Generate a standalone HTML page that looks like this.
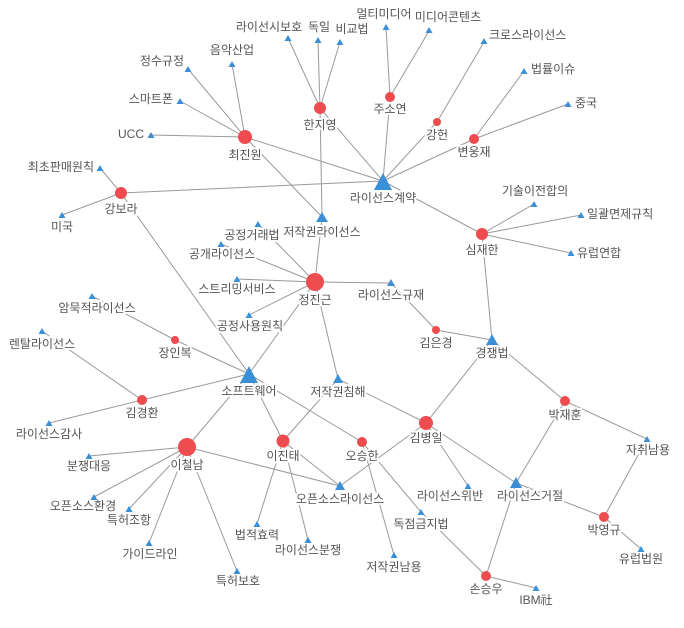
<!DOCTYPE html>
<html><head><meta charset="utf-8"><style>
html,body{margin:0;padding:0;background:#fff;}
svg text{font-family:"Liberation Sans","Noto Sans CJK KR",sans-serif;font-size:12px;fill:#555;dominant-baseline:middle;paint-order:stroke;stroke:#fff;stroke-width:4px;stroke-linejoin:round;}
</style></head><body>
<svg width="684" height="623" xmlns="http://www.w3.org/2000/svg">
<g stroke="#9a9a9a" stroke-width="1">
<line x1="245" y1="137" x2="188" y2="69"/><line x1="245" y1="137" x2="232" y2="64"/><line x1="245" y1="137" x2="180" y2="101"/><line x1="245" y1="137" x2="151" y2="135"/><line x1="245" y1="137" x2="383" y2="181"/><line x1="245" y1="137" x2="322" y2="217"/>
<line x1="320" y1="108" x2="288" y2="38"/><line x1="320" y1="108" x2="318" y2="40"/><line x1="320" y1="108" x2="340" y2="42"/><line x1="320" y1="108" x2="322" y2="217"/><line x1="320" y1="108" x2="383" y2="181"/>
<line x1="390" y1="97" x2="386" y2="27"/><line x1="390" y1="97" x2="429" y2="31"/><line x1="390" y1="97" x2="383" y2="181"/>
<line x1="437" y1="122" x2="484" y2="42"/><line x1="437" y1="122" x2="383" y2="181"/>
<line x1="474" y1="139" x2="524" y2="71"/><line x1="474" y1="139" x2="568" y2="104"/><line x1="474" y1="139" x2="383" y2="181"/>
<line x1="121" y1="193" x2="100" y2="168"/><line x1="121" y1="193" x2="62" y2="215"/><line x1="121" y1="193" x2="383" y2="181"/><line x1="121" y1="193" x2="249" y2="374"/>
<line x1="482" y1="234" x2="383" y2="181"/><line x1="482" y1="234" x2="534" y2="204"/><line x1="482" y1="234" x2="581" y2="215"/><line x1="482" y1="234" x2="571" y2="253"/><line x1="482" y1="234" x2="492" y2="340"/>
<line x1="315" y1="282" x2="258" y2="224"/><line x1="315" y1="282" x2="221" y2="244"/><line x1="315" y1="282" x2="237" y2="279"/><line x1="315" y1="282" x2="322" y2="217"/><line x1="315" y1="282" x2="391" y2="283"/><line x1="315" y1="282" x2="249" y2="374"/><line x1="315" y1="282" x2="338" y2="379"/><line x1="315" y1="282" x2="249" y2="315"/>
<line x1="175" y1="340" x2="92" y2="296"/><line x1="175" y1="340" x2="249" y2="374"/>
<line x1="436" y1="330" x2="391" y2="283"/><line x1="436" y1="330" x2="492" y2="340"/>
<line x1="142" y1="400" x2="42" y2="331"/><line x1="142" y1="400" x2="49" y2="423"/><line x1="142" y1="400" x2="249" y2="374"/>
<line x1="187" y1="447" x2="249" y2="374"/><line x1="187" y1="447" x2="89" y2="456"/><line x1="187" y1="447" x2="94" y2="497"/><line x1="187" y1="447" x2="129" y2="509"/><line x1="187" y1="447" x2="149" y2="543"/><line x1="187" y1="447" x2="237" y2="571"/><line x1="187" y1="447" x2="340" y2="486"/>
<line x1="283" y1="441" x2="249" y2="374"/><line x1="283" y1="441" x2="338" y2="379"/><line x1="283" y1="441" x2="340" y2="486"/><line x1="283" y1="441" x2="257" y2="524"/><line x1="283" y1="441" x2="308" y2="540"/>
<line x1="362" y1="442" x2="249" y2="374"/><line x1="362" y1="442" x2="394" y2="555"/><line x1="362" y1="442" x2="421" y2="512"/>
<line x1="426" y1="423" x2="338" y2="379"/><line x1="426" y1="423" x2="492" y2="340"/><line x1="426" y1="423" x2="340" y2="486"/><line x1="426" y1="423" x2="468" y2="486"/><line x1="426" y1="423" x2="516" y2="483"/>
<line x1="565" y1="401" x2="492" y2="340"/><line x1="565" y1="401" x2="516" y2="483"/><line x1="565" y1="401" x2="647" y2="439"/>
<line x1="604" y1="517" x2="516" y2="483"/><line x1="604" y1="517" x2="647" y2="439"/><line x1="604" y1="517" x2="641" y2="549"/>
<line x1="486" y1="576" x2="421" y2="512"/><line x1="486" y1="576" x2="516" y2="483"/><line x1="486" y1="576" x2="536" y2="588"/>
</g>
<g>
<text x="245" y="156" text-anchor="middle">최진원</text>
<text x="320" y="126" text-anchor="middle">한지영</text>
<text x="390" y="110" text-anchor="middle">주소연</text>
<text x="437" y="136" text-anchor="middle">강헌</text>
<text x="474" y="153" text-anchor="middle">변웅재</text>
<text x="121" y="210" text-anchor="middle">강보라</text>
<text x="482" y="251" text-anchor="middle">심재한</text>
<text x="315" y="301" text-anchor="middle">정진근</text>
<text x="175" y="354" text-anchor="middle">장인복</text>
<text x="436" y="344" text-anchor="middle">김은경</text>
<text x="142" y="414" text-anchor="middle">김경환</text>
<text x="187" y="466" text-anchor="middle">이철남</text>
<text x="283" y="457" text-anchor="middle">이진태</text>
<text x="362" y="457" text-anchor="middle">오승한</text>
<text x="426" y="439" text-anchor="middle">김병일</text>
<text x="565" y="416" text-anchor="middle">박재훈</text>
<text x="604" y="531" text-anchor="middle">박영규</text>
<text x="486" y="590" text-anchor="middle">손승우</text>
<text x="383" y="199" text-anchor="middle">라이선스계약</text>
<text x="322" y="233" text-anchor="middle">저작권라이선스</text>
<text x="249" y="392" text-anchor="middle">소프트웨어</text>
<text x="492" y="354" text-anchor="middle">경쟁법</text>
<text x="530" y="497" text-anchor="middle">라이선스거절</text>
<text x="340" y="500" text-anchor="middle">오픈소스라이선스</text>
<text x="338" y="393" text-anchor="middle">저작권침해</text>
<text x="269" y="28" text-anchor="middle">라이선시보호</text>
<text x="319" y="28" text-anchor="middle">독일</text>
<text x="352" y="30" text-anchor="middle">비교법</text>
<text x="384" y="15" text-anchor="middle">멀티미디어</text>
<text x="448" y="18" text-anchor="middle">미디어콘텐츠</text>
<text x="489" y="36">크로스라이선스</text>
<text x="531" y="70">법률이슈</text>
<text x="575" y="104">중국</text>
<text x="535" y="192" text-anchor="middle">기술이전합의</text>
<text x="587" y="215">일괄면제규칙</text>
<text x="577" y="254">유럽연합</text>
<text x="391" y="296" text-anchor="middle">라이선스규재</text>
<text x="232" y="51" text-anchor="middle">음악산업</text>
<text x="184" y="62" text-anchor="end">정수규정</text>
<text x="173" y="100" text-anchor="end">스마트폰</text>
<text x="144" y="135" text-anchor="end">UCC</text>
<text x="94" y="168" text-anchor="end">최초판매원칙</text>
<text x="62" y="228" text-anchor="middle">미국</text>
<text x="252" y="236" text-anchor="middle">공정거래법</text>
<text x="222" y="255" text-anchor="middle">공개라이선스</text>
<text x="237" y="290" text-anchor="middle">스트리밍서비스</text>
<text x="250" y="327" text-anchor="middle">공정사용원칙</text>
<text x="97" y="309" text-anchor="middle">암묵적라이선스</text>
<text x="42" y="345" text-anchor="middle">렌탈라이선스</text>
<text x="49" y="435" text-anchor="middle">라이선스감사</text>
<text x="89" y="467" text-anchor="middle">분쟁대응</text>
<text x="83" y="507" text-anchor="middle">오픈소스환경</text>
<text x="129" y="521" text-anchor="middle">특허조항</text>
<text x="150" y="555" text-anchor="middle">가이드라인</text>
<text x="238" y="582" text-anchor="middle">특허보호</text>
<text x="257" y="536" text-anchor="middle">법적효력</text>
<text x="308" y="551" text-anchor="middle">라이선스분쟁</text>
<text x="450" y="497" text-anchor="middle">라이선스위반</text>
<text x="421" y="525" text-anchor="middle">독점금지법</text>
<text x="394" y="568" text-anchor="middle">저작권남용</text>
<text x="536" y="601" text-anchor="middle">IBM社</text>
<text x="641" y="560" text-anchor="middle">유럽법원</text>
<text x="648" y="451" text-anchor="middle">자취남용</text>
</g>
<g fill="#ee4c4f">
<circle cx="245" cy="137" r="7"/><circle cx="320" cy="108" r="6"/><circle cx="390" cy="97" r="5"/><circle cx="437" cy="122" r="4"/><circle cx="474" cy="139" r="5"/>
<circle cx="121" cy="193" r="6"/><circle cx="482" cy="234" r="6"/><circle cx="315" cy="282" r="9"/><circle cx="175" cy="340" r="4"/><circle cx="436" cy="330" r="4"/>
<circle cx="142" cy="400" r="5"/><circle cx="187" cy="447" r="9"/><circle cx="283" cy="441" r="6.5"/><circle cx="362" cy="442" r="5"/><circle cx="426" cy="423" r="7"/>
<circle cx="565" cy="401" r="5"/><circle cx="604" cy="517" r="5"/><circle cx="486" cy="576" r="5"/>
</g>
<g fill="#3a8fd6">
<polygon points="383,173 392,190 374,190"/>
<polygon points="322,212 328,222 316,222"/>
<polygon points="249,366 258,383 240,383"/>
<polygon points="492,334 498,345 486,345"/>
<polygon points="516,477 522,488 510,488"/>
<polygon points="340,481 345,490 335,490"/>
<polygon points="338,374 343,383 333,383"/>
<polygon points="288,35 291.5,41 284.5,41"/><polygon points="318,37 321.5,43 314.5,43"/><polygon points="340,39 343.5,45 336.5,45"/>
<polygon points="386,24 389.5,30 382.5,30"/><polygon points="429,27 432.5,33 425.5,33"/><polygon points="484,38 487.5,44 480.5,44"/>
<polygon points="524,68 527.5,74 520.5,74"/><polygon points="568,101 571.5,107 564.5,107"/>
<polygon points="534,201 537.5,207 530.5,207"/><polygon points="581,212 584.5,218 577.5,218"/><polygon points="571,250 574.5,256 567.5,256"/>
<polygon points="391,279 395,286 387,286"/>
<polygon points="232,61 235.5,67 228.5,67"/><polygon points="188,66 191.5,72 184.5,72"/><polygon points="180,98 183.5,104 176.5,104"/>
<polygon points="151,132 154.5,138 147.5,138"/><polygon points="100,165 103.5,171 96.5,171"/><polygon points="62,212 65.5,218 58.5,218"/>
<polygon points="258,221 261.5,227 254.5,227"/><polygon points="221,241 224.5,247 217.5,247"/><polygon points="237,276 240.5,282 233.5,282"/>
<polygon points="249,312 252.5,318 245.5,318"/><polygon points="92,293 95.5,299 88.5,299"/><polygon points="42,328 45.5,334 38.5,334"/>
<polygon points="49,420 52.5,426 45.5,426"/><polygon points="89,453 92.5,459 85.5,459"/><polygon points="94,494 97.5,500 90.5,500"/>
<polygon points="129,506 132.5,512 125.5,512"/><polygon points="149,540 152.5,546 145.5,546"/><polygon points="237,568 240.5,574 233.5,574"/>
<polygon points="257,521 260.5,527 253.5,527"/><polygon points="308,537 311.5,543 304.5,543"/><polygon points="468,483 471.5,489 464.5,489"/>
<polygon points="421,509 424.5,515 417.5,515"/><polygon points="394,552 397.5,558 390.5,558"/><polygon points="536,585 539.5,591 532.5,591"/>
<polygon points="641,546 644.5,552 637.5,552"/><polygon points="647,436 650.5,442 643.5,442"/>
</g>
</svg>
</body></html>
